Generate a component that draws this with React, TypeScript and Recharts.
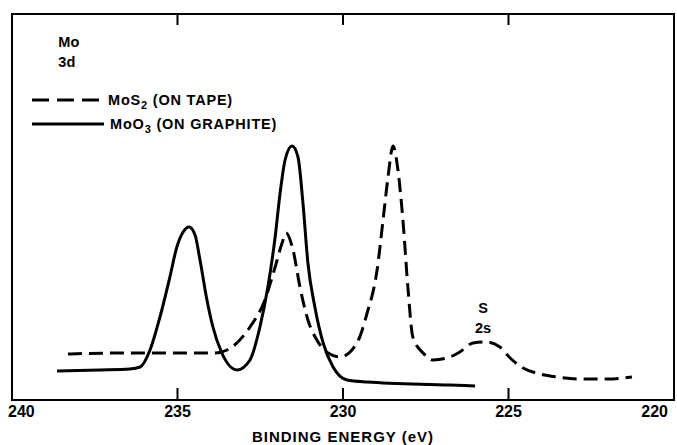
import React from "react";
import { LineChart, Line, XAxis, YAxis, ReferenceArea, ReferenceDot } from "recharts";

// binding energy (eV) and intensity (arbitrary units)
const mos2Energy = [238.31, 236.74, 233.87, 233.5, 232.81, 232.36, 232.05, 231.84, 231.72, 231.51, 231.3, 231.06, 230.79, 230.45, 230.09, 229.58, 229.27, 228.97, 228.79, 228.64, 228.49, 228.34, 228.19, 228.04, 227.89, 227.58, 227.28, 226.77, 226.47, 226.07, 225.65, 225.26, 224.95, 224.56, 224.05, 223.53, 222.84, 222.02, 221.27];
const mos2Counts = [46, 47, 47, 50, 73, 100, 133, 157, 167, 150, 113, 80, 60, 47, 43, 57, 87, 130, 180, 223, 254, 230, 180, 113, 63, 47, 40, 43, 48, 57, 58, 53, 42, 32, 26, 23, 21, 21, 23];

const moo3Energy = [238.64, 237.34, 236.44, 236.13, 235.83, 235.53, 235.23, 235.02, 234.83, 234.65, 234.47, 234.32, 234.11, 233.93, 233.66, 233.2, 232.81, 232.51, 232.27, 232.05, 231.9, 231.75, 231.54, 231.36, 231.21, 231.06, 230.85, 230.6, 230.3, 229.88, 229.27, 226.77, 226.01];
const moo3Counts = [29, 30, 31, 33, 50, 83, 123, 153, 168, 173, 165, 140, 100, 73, 47, 30, 40, 73, 113, 163, 207, 240, 254, 243, 197, 137, 93, 57, 33, 20, 18, 15, 14];

const xTicks = [240, 235, 230, 225, 220];

const mos2Data = mos2Energy.map((e, i) => ({ e, v: mos2Counts[i] }));
const moo3Data = moo3Energy.map((e, i) => ({ e, v: moo3Counts[i] }));

const FONT = "'Liberation Sans', Arial, sans-serif";
const Y_MAX = 386;
const PLOT_H = 386; // pixel height of the plot area (445 - 14 top - 45 axis)

// bottom axis: inward tick marks (bottom and top of the frame) plus the label
const EnergyTick = (props: any) => {
  const { x, y, payload } = props;
  const v = Number(payload.value);
  let anchor = "middle";
  let dx = 0;
  if (v === 240) { anchor = "start"; dx = -4; }
  if (v === 220) { anchor = "end"; dx = 3; }
  const inner = v !== 240 && v !== 220;
  return (
    <g>
      {inner ? <rect x={x - 1} y={y - 12} width={2} height={12} fill="#000" /> : null}
      {inner ? <rect x={x - 1} y={y - PLOT_H} width={2} height={11} fill="#000" /> : null}
      <text x={x + dx} y={y} dy={17} textAnchor={anchor} fontFamily={FONT} fontSize={16} fontWeight="bold" fill="#000">
        {v}
      </text>
    </g>
  );
};

const Sub = ({ children }: any) => (
  <span style={{ fontSize: 11, position: "relative", top: 4 }}>{children}</span>
);

// legend sits inside the frame, so it is drawn as an overlay rather than a Recharts Legend
const LegendBox = () => (
  <div style={{ position: "absolute", left: 32, top: 88, fontFamily: FONT, fontSize: 14.5, fontWeight: "bold", letterSpacing: 0.8, color: "#000" }}>
    <div style={{ display: "flex", alignItems: "center", height: 24 }}>
      <svg width={72} height={6} style={{ marginRight: 4 }}>
        <line x1={0} y1={3} x2={72} y2={3} stroke="#000" strokeWidth={3} strokeDasharray="17 8" />
      </svg>
      <span>MoS<Sub>2</Sub> (ON TAPE)</span>
    </div>
    <div style={{ display: "flex", alignItems: "center", height: 24 }}>
      <svg width={72} height={6} style={{ marginRight: 6 }}>
        <line x1={0} y1={3} x2={72} y2={3} stroke="#000" strokeWidth={3} />
      </svg>
      <span>MoO<Sub>3</Sub> (ON GRAPHITE)</span>
    </div>
  </div>
);

const TwoLineLabel = (top: string, bottom: string, anchor: string) => (props: any) => {
  const { viewBox } = props;
  const cx = viewBox.x + (viewBox.width || 0) / 2;
  const cy = viewBox.y + (viewBox.height || 0) / 2;
  return (
    <text x={cx} y={cy} textAnchor={anchor} fontFamily={FONT} fontSize={14.5} fontWeight="bold" fill="#000">
      <tspan x={cx} dy={0}>{top}</tspan>
      <tspan x={cx} dy={20}>{bottom}</tspan>
    </text>
  );
};

export default function App() {
  return (
    <div style={{ position: "absolute", left: 0, top: 0, width: 677, height: 445, background: "#fff" }}>
      <LineChart width={677} height={445} margin={{ top: 14, right: 3, left: 12, bottom: 0 }}>
        <XAxis
          dataKey="e"
          type="number"
          domain={[220, 240]}
          reversed
          ticks={xTicks}
          allowDataOverflow
          axisLine={false}
          tickLine={false}
          tickSize={0}
          tickMargin={0}
          tick={<EnergyTick />}
          height={45}
          label={{ value: "BINDING ENERGY (eV)", position: "insideBottom", offset: 3, fontFamily: FONT, fontSize: 15, fontWeight: "bold", letterSpacing: 1, fill: "#000" }}
        />
        <YAxis type="number" domain={[0, Y_MAX]} hide allowDataOverflow />
        <ReferenceArea x1={240} x2={220} y1={0} y2={Y_MAX} fill="none" stroke="#000" strokeWidth={2} />
        <Line data={mos2Data} dataKey="v" type="monotone" stroke="#000" strokeWidth={3} strokeDasharray="14 7" dot={false} isAnimationActive={false} />
        <Line data={moo3Data} dataKey="v" type="monotone" stroke="#000" strokeWidth={3} dot={false} isAnimationActive={false} />
        <ReferenceDot x={238.6} y={353} r={0} label={TwoLineLabel("Mo", "3d", "start")} />
        <ReferenceDot x={225.77} y={87} r={0} label={TwoLineLabel("S", "2s", "middle")} />
      </LineChart>
      <LegendBox />
    </div>
  );
}
